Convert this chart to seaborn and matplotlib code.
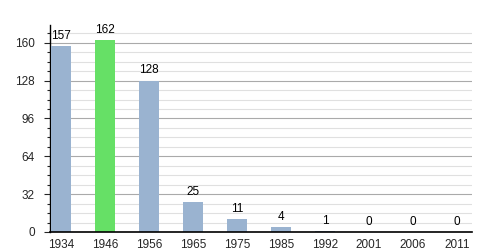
import matplotlib
matplotlib.use("Agg")
import matplotlib.pyplot as plt
import seaborn as sns
import pandas as pd
from matplotlib.ticker import MultipleLocator

years = ["1934", "1946", "1956", "1965", "1975", "1985", "1992", "2001", "2006", "2011"]
values = [157, 162, 128, 25, 11, 4, 1, 0, 0, 0]
highlight = ["no", "yes", "no", "no", "no", "no", "no", "no", "no", "no"]

df = pd.DataFrame({"year": years, "value": values, "hl": highlight})

sns.set_style("white")
plt.rcParams['font.family'] = ['Liberation Sans', 'DejaVu Sans']

fig = plt.figure(figsize=(5, 2.5), dpi=100)
ax = fig.add_axes([0.1, 0.072, 0.844, 0.828])

sns.barplot(data=df, x="year", y="value", hue="hl",
            palette={"no": "#9ab3d0", "yes": "#66e066"}, saturation=1,
            width=0.46, dodge=False, legend=False, ax=ax, zorder=3,
            linewidth=0, edgecolor="none")

ax.set_ylim(0, 175)
ax.set_xlim(-0.25, 9.34)
ax.yaxis.set_major_locator(MultipleLocator(32))
ax.yaxis.set_minor_locator(MultipleLocator(8))
ax.grid(axis="y", which="major", color="#aaaaaa", linewidth=0.8, zorder=0)
ax.grid(axis="y", which="minor", color="#e0e0e0", linewidth=0.8, zorder=0)
ax.set_axisbelow(True)

for s in ["top", "right"]:
    ax.spines[s].set_visible(False)
ax.spines["left"].set_color("black")
ax.spines["bottom"].set_color("black")
ax.spines["left"].set_linewidth(1.0)
ax.spines["bottom"].set_linewidth(1.2)
ax.spines["bottom"].set_zorder(5)

ax.tick_params(axis="y", which="major", left=True, length=4, width=0.8, labelsize=8.5, pad=7)
ax.tick_params(axis="y", which="minor", left=True, length=2.5, width=0.8)
ax.tick_params(axis="x", bottom=False, labelsize=8.5, pad=1.5)
ax.set_xlabel("")
ax.set_ylabel("")

for i, v in enumerate(values):
    ax.text(i, v + 3.5, str(v), ha="center", va="bottom", fontsize=8.5, color="black")

fig.savefig("out.png", dpi=100)
